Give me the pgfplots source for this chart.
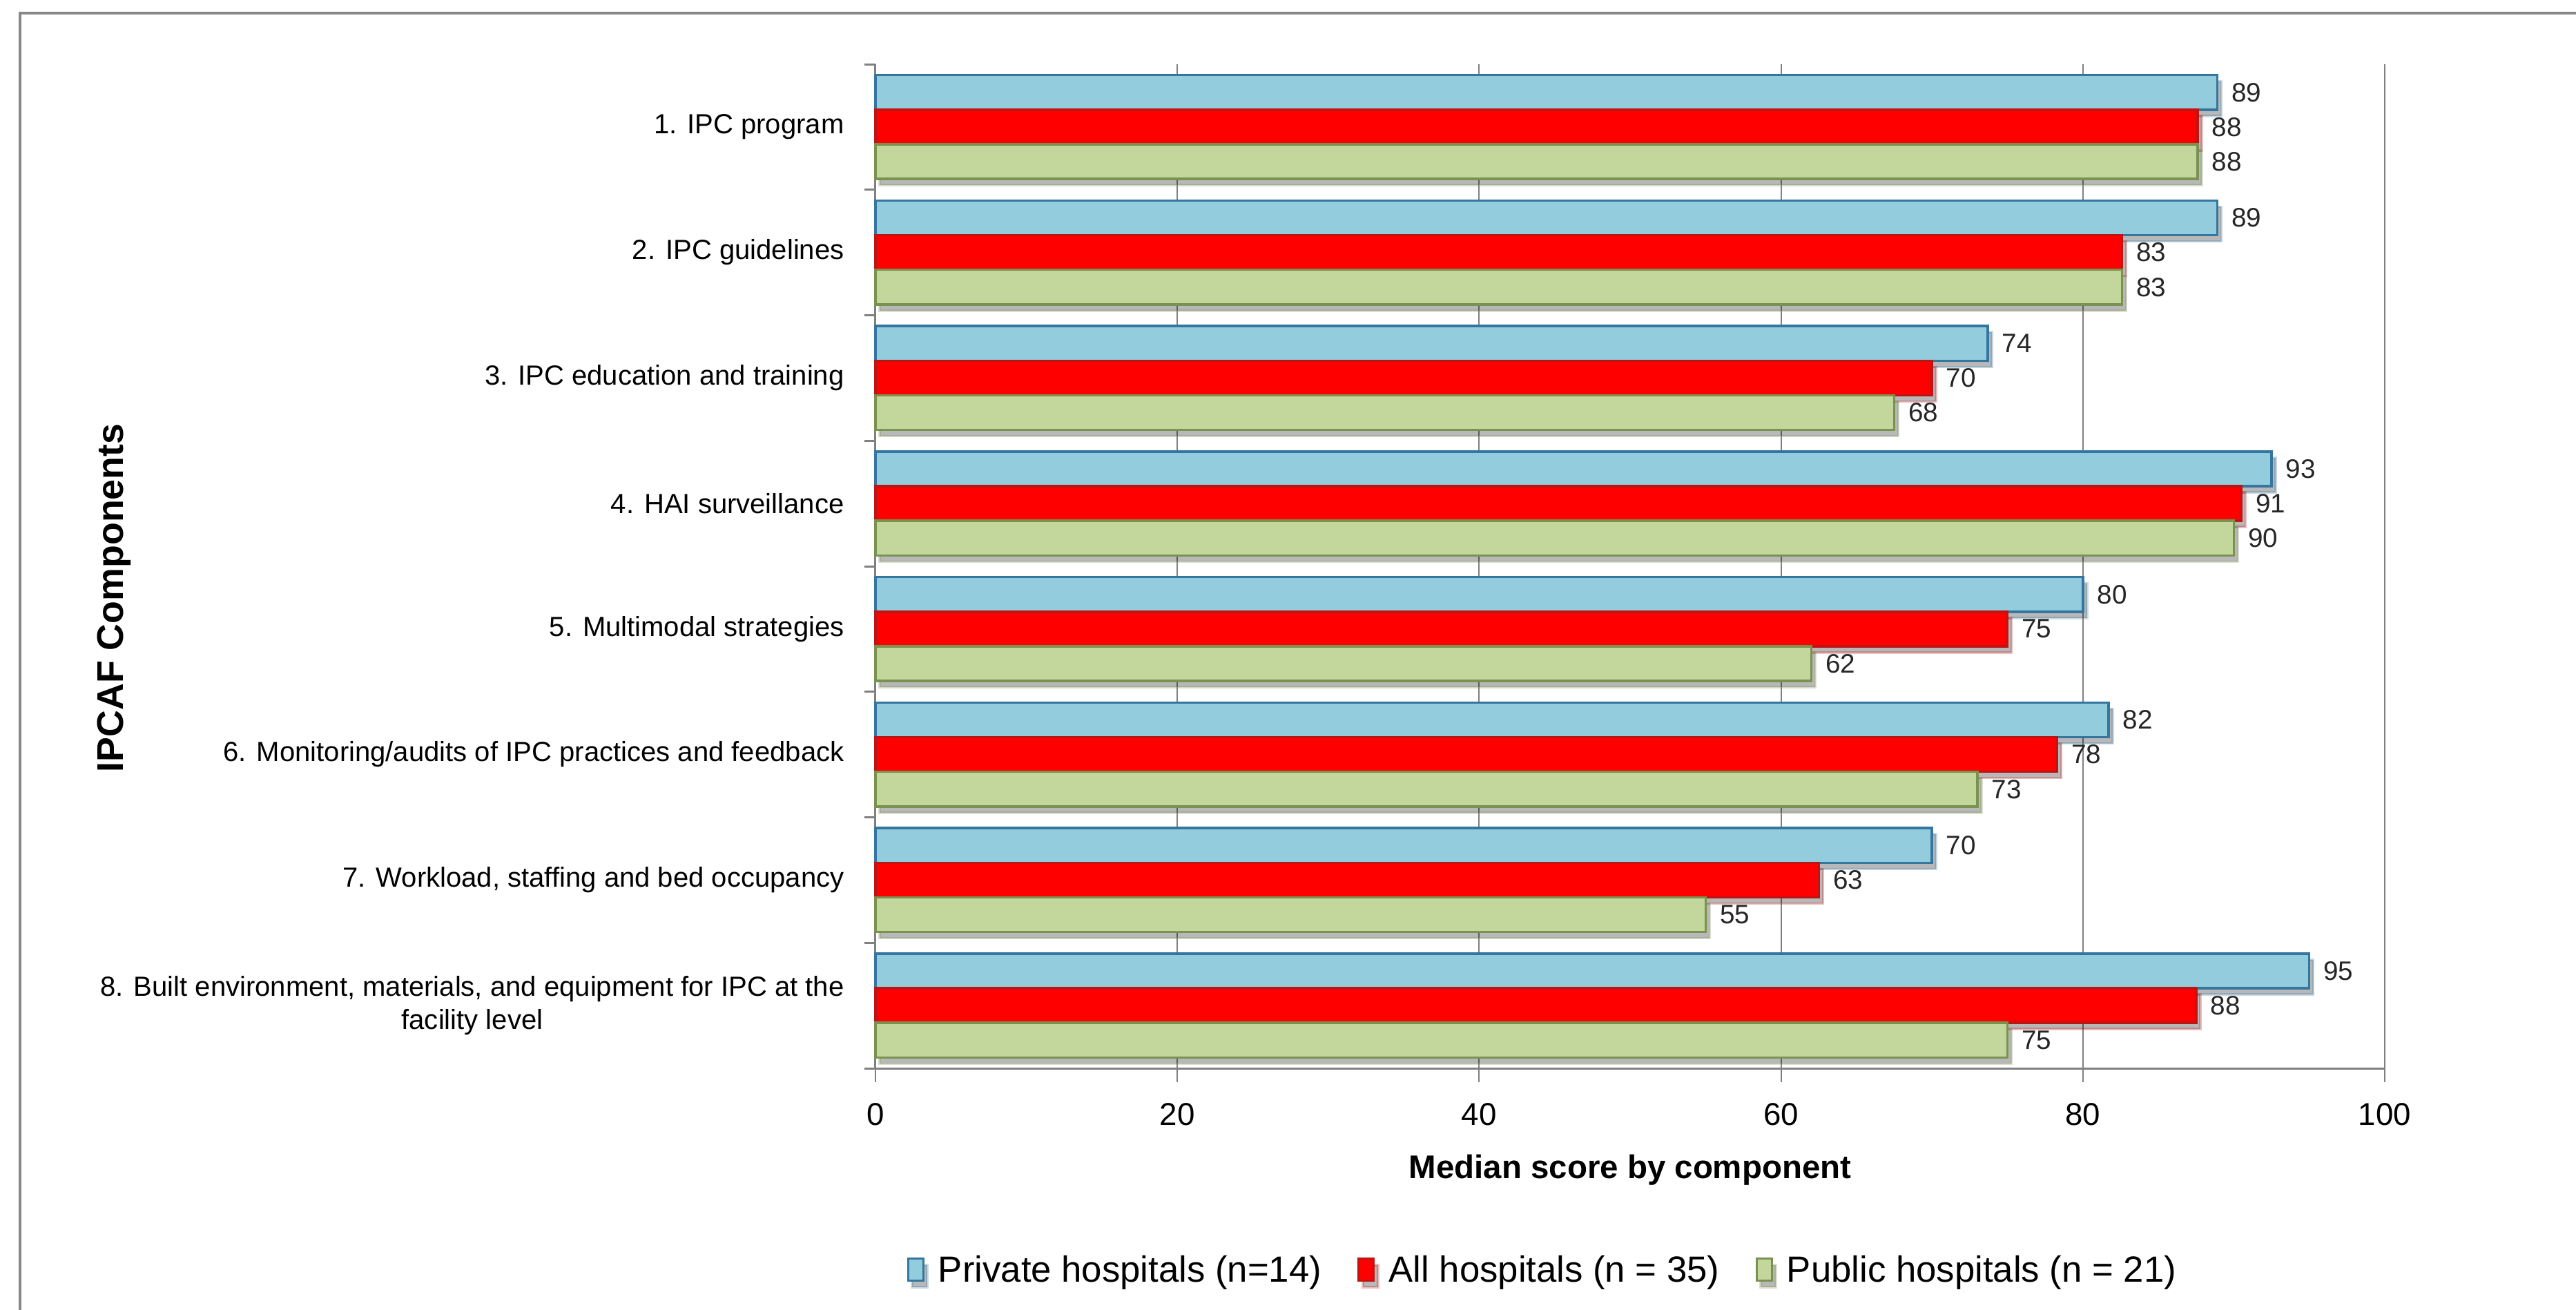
\documentclass[border=0pt]{standalone}
\usepackage{fontspec}
\setmainfont{Liberation Sans}
\usepackage{pgfplots}
\pgfplotsset{compat=1.18}
\usetikzlibrary{shadows}
\definecolor{bfill}{RGB}{147,205,221}
\definecolor{bdraw}{RGB}{52,118,160}
\definecolor{rfill}{RGB}{255,0,0}
\definecolor{rdraw}{RGB}{190,20,20}
\definecolor{gfill}{RGB}{195,214,155}
\definecolor{gdraw}{RGB}{122,146,80}
\definecolor{framegray}{RGB}{135,135,135}
\definecolor{gridgray}{RGB}{128,128,128}
\begin{document}
\begin{tikzpicture}
\path[use as bounding box] (0,0) rectangle (37.31,18.97);
\draw[line width=0.045cm, framegray] (0.29,-0.5) -- (0.29,18.78) -- (37.6,18.78);
\begin{axis}[
  at={(12.68cm,3.50cm)}, anchor=south west,
  width=21.86cm, height=14.54cm, scale only axis,
  xbar, clip=false,
  xmin=0, xmax=100, xtick={0,20,...,100},
  ymin=0.5, ymax=8.5, y dir=reverse,
  ytick={1,...,8},
  minor ytick={0.5,1.5,...,8.5},
  yticklabels={{1. IPC program},{2. IPC guidelines},{3. IPC education and training},{4. HAI surveillance},{5. Multimodal strategies},{6. Monitoring/audits of IPC practices and feedback},{7. Workload, staffing and bed occupancy},{8. Built environment, materials, and equipment for IPC at the\\facility level}},
  axis lines*=left,
  axis line style={gridgray, line width=0.03cm},
  xmajorgrids, grid style={gridgray, line width=0.02cm},
  tick align=outside,
  major tick length=0.2cm, minor tick length=0.16cm,
  major x tick style={gridgray, line width=0.02cm},
  major y tick style={draw=none},
  minor y tick style={gridgray, line width=0.03cm},
  /pgf/number format/assume math mode=true,
  xticklabel style={font=\fontsize{13}{15}\selectfont, anchor=north, yshift=-0.18cm},
  yticklabel style={font=\fontsize{11.4}{13.7}\selectfont, anchor=east, align=center, xshift=-0.13cm},
  xlabel={Median score by component},
  xlabel style={font=\fontsize{13.5}{16}\selectfont\bfseries, at={(axis description cs:0.5,-0.1011)}, anchor=center},
  ylabel={IPCAF Components},
  ylabel style={font=\fontsize{15.3}{18}\selectfont\bfseries, at={(axis description cs:-0.5045,0.4684)}, anchor=center, rotate=0},
  bar width=0.276,
  point meta=explicit symbolic,
  nodes near coords,
  every node near coord/.append style={font=\fontsize{11}{13}\selectfont, anchor=west, inner sep=0.05cm, xshift=0.14cm, text=black!85},
  legend columns=3,
  legend style={at={(axis description cs:0.443,-0.2015)}, anchor=center, draw=none, fill=none,
    font=\fontsize{15}{18}\selectfont,
    /tikz/every even column/.append style={column sep=0.45cm}},
  legend image code/.code={\draw[#1, line width=0.03cm] (-0.05cm,-0.15cm) rectangle (0.17cm,0.17cm);\path (0.3cm,0cm);},
]
\addplot[fill=bfill, draw=bdraw, line width=0.035cm, bar shift=-0.276,
  drop shadow={shadow xshift=0.06cm, shadow yshift=-0.09cm, opacity=0.28, fill=black}]
  coordinates {(88.9,1) [89] (88.9,2) [89] (73.7,3) [74] (92.5,4) [93] (80.0,5) [80] (81.7,6) [82] (70.0,7) [70] (95.0,8) [95]};
\addplot[fill=rfill, draw=rdraw, line width=0.035cm, bar shift=0,
  drop shadow={shadow xshift=0.06cm, shadow yshift=-0.09cm, opacity=0.28, fill=black}]
  coordinates {(87.6,1) [88] (82.6,2) [83] (70.0,3) [70] (90.5,4) [91] (75.0,5) [75] (78.3,6) [78] (62.5,7) [63] (87.5,8) [88]};
\addplot[fill=gfill, draw=gdraw, line width=0.035cm, bar shift=0.276,
  drop shadow={shadow xshift=0.06cm, shadow yshift=-0.09cm, opacity=0.28, fill=black}]
  coordinates {(87.6,1) [88] (82.6,2) [83] (67.5,3) [68] (90.0,4) [90] (62.0,5) [62] (73.0,6) [73] (55.0,7) [55] (75.0,8) [75]};
\legend{Private hospitals (n=14), All hospitals (n = 35), Public hospitals (n = 21)}
\end{axis}
\end{tikzpicture}
\end{document}
